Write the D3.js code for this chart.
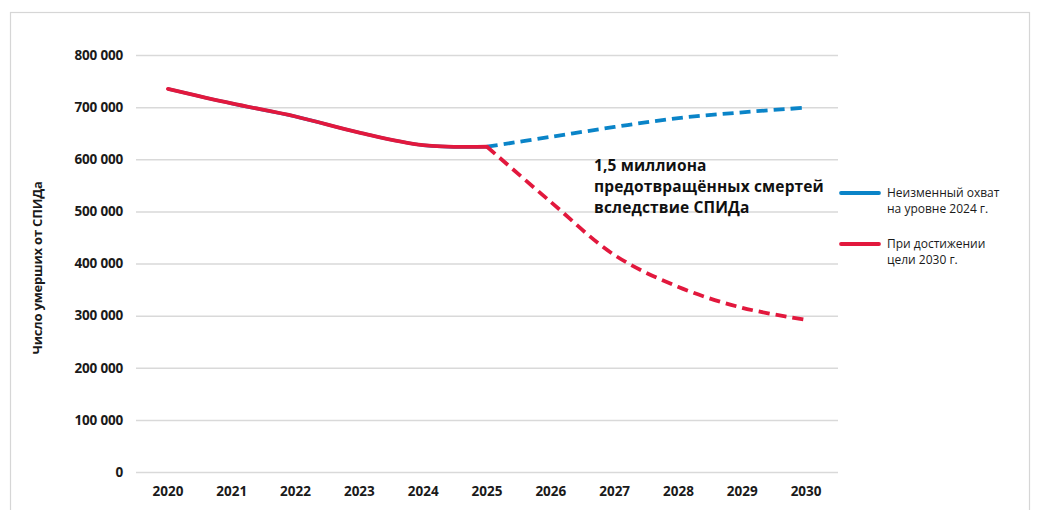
<!DOCTYPE html>
<html><head><meta charset="utf-8">
<script src="https://cdn.jsdelivr.net/npm/d3@7"></script>
<style>body{margin:0;background:#fff;} svg{display:block;font-family:"Open Sans","Noto Sans",sans-serif;}</style>
</head><body>
<svg id="c" width="1037" height="510"></svg>
<script>
const years = ["2020","2021","2022","2023","2024","2025","2026","2027","2028","2029","2030"];
const historical = [735000, 707000, 682000, 651000, 627000, 624000];
const constantCoverage = [624000, 643000, 662000, 679000, 690000, 699000];
const target2030 = [624000, 518000, 416000, 355000, 315000, 292000];
const yTicks = [0,100000,200000,300000,400000,500000,600000,700000,800000];
const seriesNames = ["Неизменный охват\nна уровне 2024 г.", "При достижении\nцели 2030 г."];
const annotation = ["1,5 миллиона", "предотвращённых смертей", "вследствие СПИДа"];
const yTitle = "Число умерших от СПИДа";

const blue = "#0a84c8", red = "#e2183d";
const svg = d3.select("#c");
svg.append("rect").attr("x",10.5).attr("y",12.5).attr("width",1019).attr("height",520)
  .attr("fill","none").attr("stroke","#d6d6d6").attr("stroke-width",1.2);

const x = d3.scaleBand().domain(years).range([136,838]);
const cx = d => x(d) + x.bandwidth()/2;
const y = d3.scaleLinear().domain([0,800000]).range([472,55]);
const fmt = v => d3.format(",")(v).replace(/,/g," ");

const yAxis = svg.append("g").attr("transform","translate(136,0)")
  .call(d3.axisLeft(y).tickValues(yTicks).tickSize(-702).tickFormat(fmt).tickPadding(13));
yAxis.select(".domain").remove();
yAxis.selectAll(".tick line").attr("stroke","#d9d9d9").attr("stroke-width",1.5);
yAxis.selectAll(".tick text").attr("font-size",13.5).attr("font-weight",700).attr("fill","#1a1a1a")
  .attr("font-family","'Open Sans',sans-serif").attr("letter-spacing","-0.2");

const xAxis = svg.append("g").attr("transform","translate(0,472)")
  .call(d3.axisBottom(x).tickSize(0).tickPadding(14));
xAxis.select(".domain").remove();
xAxis.selectAll(".tick text").attr("font-size",13.5).attr("font-weight",700).attr("fill","#1a1a1a")
  .attr("font-family","'Open Sans',sans-serif");

svg.append("text").attr("transform","translate(42,268) rotate(-90)").attr("text-anchor","middle")
  .attr("font-size",13).attr("font-weight",700).attr("fill","#1a1a1a").attr("letter-spacing","-0.2").text(yTitle);

const line = d3.line().x(d=>cx(d[0])).y(d=>y(d[1])).curve(d3.curveCatmullRom.alpha(0.5));
const hist = historical.map((v,i)=>[years[i],v]);
const fut = years.slice(5);
const blueF = constantCoverage.map((v,i)=>[fut[i],v]);
const redF = target2030.map((v,i)=>[fut[i],v]);

svg.append("path").attr("d",line(hist)).attr("fill","none").attr("stroke",blue).attr("stroke-width",3.5);
svg.append("path").attr("d",line(blueF)).attr("fill","none").attr("stroke",blue).attr("stroke-width",3.8).attr("stroke-dasharray","11,6");
svg.append("path").attr("d",line(redF)).attr("fill","none").attr("stroke",red).attr("stroke-width",3.8).attr("stroke-dasharray","11,6");
svg.append("path").attr("d",line(hist)).attr("fill","none").attr("stroke",red).attr("stroke-width",3.8).attr("stroke-linecap","round");

annotation.forEach((t,i)=>svg.append("text").attr("x",594).attr("y",171+i*21)
  .attr("font-size",15.5).attr("font-weight",700).attr("fill","#111").attr("letter-spacing","0.15").text(t));

const legColors=[blue,red], legY=[193,244];
seriesNames.forEach((n,i)=>{
  svg.append("line").attr("x1",841).attr("x2",879).attr("y1",legY[i]).attr("y2",legY[i])
    .attr("stroke",legColors[i]).attr("stroke-width",3.8).attr("stroke-linecap","round");
  n.split("\n").forEach((s,j)=>svg.append("text").attr("x",887).attr("y",legY[i]+4+j*16)
    .attr("font-size",12).attr("fill","#1a1a1a").text(s));
});
</script>
</body></html>
